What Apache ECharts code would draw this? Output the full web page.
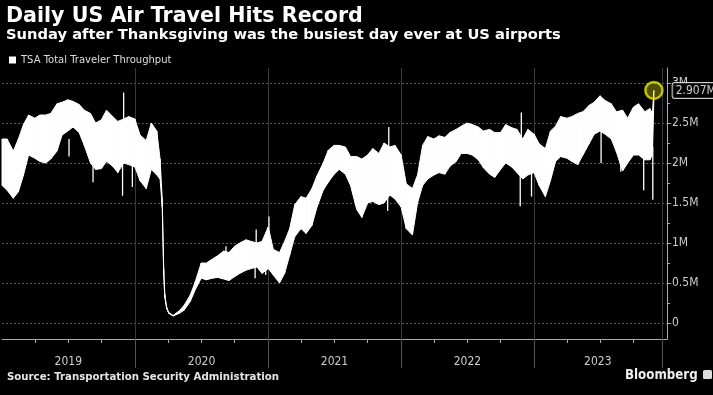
<!DOCTYPE html>
<html><head><meta charset="utf-8">
<script src="https://cdn.jsdelivr.net/npm/echarts@6/dist/echarts.min.js"></script>
<style>html,body{margin:0;padding:0;background:#000}#c{width:713px;height:395px}</style>
</head><body><div id="c"></div>
<script>
// ---- data (values in millions of travelers) ----
const halfMonthDays = ['01-01','01-15','02-01','02-15','03-01','03-15','04-01','04-15','05-01','05-15','06-01','06-15',
                       '07-01','07-15','08-01','08-15','09-01','09-15','10-01','10-15','11-01','11-15','12-01','12-15'];
// weekly high / low envelope of daily throughput
const hi2019 = [2.30,2.30,2.15,2.30,2.48,2.60,2.56,2.60,2.60,2.62,2.74,2.76,2.79,2.77,2.73,2.66,2.62,2.50,2.54,2.66,2.58,2.52,2.55,2.58];
const lo2019 = [1.72,1.66,1.56,1.64,1.85,2.10,2.06,2.02,2.00,2.05,2.15,2.35,2.40,2.45,2.38,2.22,2.00,1.92,1.93,2.02,1.96,1.88,2.00,1.98];
const days2020 = ['01-01','01-15','02-01','02-15','03-01','03-10','03-16','03-20','03-23','03-28','04-03','04-15','05-01','05-15',
                  '06-01','06-15','07-01','07-15','08-01','08-15','09-01','09-15','10-01','10-15','11-01','11-15','12-01','12-15'];
const hi2020 = [2.55,2.35,2.28,2.50,2.40,2.05,1.55,0.68,0.36,0.20,0.13,0.095,0.15,0.22,0.35,0.52,0.75,0.75,0.80,0.84,0.90,0.88,0.96,1.00,1.04,1.02,1.00,1.02];
const lo2020 = [1.95,1.78,1.68,1.92,1.85,1.80,1.45,0.60,0.32,0.18,0.12,0.087,0.12,0.16,0.27,0.42,0.56,0.54,0.56,0.57,0.55,0.53,0.58,0.62,0.66,0.68,0.70,0.62];
const hi2021 = [1.20,0.92,0.88,1.02,1.18,1.48,1.58,1.56,1.68,1.84,2.00,2.16,2.22,2.22,2.20,2.08,2.08,2.05,2.10,2.18,2.12,2.25,2.20,2.22];
const lo2021 = [0.68,0.60,0.50,0.62,0.85,1.08,1.18,1.12,1.22,1.45,1.66,1.76,1.86,1.92,1.86,1.72,1.42,1.32,1.50,1.52,1.48,1.50,1.60,1.55];
const hi2022 = [2.10,1.74,1.68,1.85,2.22,2.33,2.30,2.34,2.32,2.38,2.42,2.46,2.50,2.48,2.45,2.40,2.42,2.38,2.38,2.48,2.44,2.42,2.30,2.42];
const lo2022 = [1.45,1.18,1.10,1.50,1.72,1.80,1.85,1.88,1.86,1.96,2.02,2.12,2.12,2.10,2.04,1.94,1.86,1.82,1.92,2.00,1.95,1.88,1.80,1.85];
const days2023 = ['01-01','01-15','02-01','02-15','03-01','03-15','04-01','04-15','05-01','05-15','06-01','06-15',
                  '07-01','07-15','08-01','08-15','09-01','09-15','10-01','10-15','11-01','11-15','11-22','11-26'];
const hi2023 = [2.36,2.24,2.18,2.40,2.46,2.58,2.56,2.58,2.62,2.64,2.72,2.76,2.84,2.78,2.74,2.64,2.66,2.56,2.70,2.74,2.64,2.68,2.62,2.907];
const lo2023 = [1.88,1.72,1.58,1.78,2.02,2.08,2.06,2.02,1.98,2.10,2.24,2.36,2.40,2.36,2.30,2.14,1.90,2.00,2.10,2.10,2.04,2.04,2.10,2.80];
// single-day outliers: [date, band value, day value]
const spikes = [
  ['2019-07-04',2.30,2.08],['2019-09-08',2.00,1.76],['2019-11-28',2.00,1.59],['2019-12-01',2.40,2.88],['2019-12-25',2.00,1.70],
  ['2020-09-07',0.70,0.96],['2020-11-26',0.70,0.56],['2020-11-29',0.90,1.17],['2020-12-25',0.70,0.60],
  ['2021-01-03',1.00,1.33],['2021-11-25',1.60,1.40],['2021-11-28',2.10,2.45],
  ['2022-11-24',1.90,1.46],['2022-11-27',2.30,2.63],['2022-12-25',1.90,1.58],
  ['2023-07-04',2.40,2.00],['2023-08-27',2.10,1.89],['2023-10-29',2.10,1.66],['2023-11-23',2.20,1.54]
];
const recordDate = '2023-11-26';
const recordValue = 2.907;
const recordLabel = '2.907M';
const yTicks = [0,0.5,1,1.5,2,2.5,3];
const yMinorTicks = [0.25,0.75,1.25,1.75,2.25,2.75];
const yearLabels = [2019,2020,2021,2022,2023];
const seriesName = 'TSA Total Traveler Throughput';

// ---- build ----
function ts(s){const p=s.split('-').map(Number);return new Date(p[0],p[1]-1,p[2]).getTime();}
const bandData=[];
function addYear(y,days,hi,lo){days.forEach((d,i)=>{bandData.push([ts(y+'-'+d),lo[i],hi[i]]);});}
addYear(2019,halfMonthDays,hi2019,lo2019);
addYear(2020,days2020,hi2020,lo2020);
addYear(2021,halfMonthDays,hi2021,lo2021);
addYear(2022,halfMonthDays,hi2022,lo2022);
addYear(2023,days2023,hi2023,lo2023);
const spikeData = spikes.map(s=>[ts(s[0]),s[1],s[2]]);
const xMin = new Date(2019,0,1).getTime(), xMax = new Date(2024,0,1).getTime();
const yearBounds = [2020,2021,2022,2023].map(y=>new Date(y,0,1).getTime()).concat([new Date(2023,11,18).getTime()]);
const labelPos = yearLabels.map(y=> y===2023 ? new Date(2023,5,25).getTime() : new Date(y,6,2).getTime());
const quarters=[]; yearLabels.forEach(y=>[3,6,9].forEach(m=>quarters.push(new Date(y,m,1).getTime())));

const COND = 'DejaVu Sans Condensed';
const SANS = 'DejaVu Sans';
const chart = echarts.init(document.getElementById('c'), null, {renderer:'canvas'});
chart.setOption({
  backgroundColor:'#000',
  animation:false,
  title:[
    {text:'Daily US Air Travel Hits Record',left:6,top:6,padding:0,textStyle:{color:'#fff',fontSize:20.6,fontWeight:'bold',fontFamily:SANS}},
    {text:'Sunday after Thanksgiving was the busiest day ever at US airports',left:6,top:28,padding:0,textStyle:{color:'#fff',fontSize:14.7,fontWeight:'bold',fontFamily:SANS}}
  ],
  legend:{data:[seriesName],left:9,top:55,itemWidth:7,itemHeight:7,icon:'rect',padding:0,selectedMode:false,
    textStyle:{color:'#ddd',fontSize:10,fontFamily:SANS}},
  grid:{left:2,right:46,top:68,bottom:56,containLabel:false},
  xAxis:[
    {type:'value',min:xMin,max:xMax,position:'bottom',
      axisLine:{show:true,onZero:false,lineStyle:{color:'#aaa',width:1}},
      axisTick:{show:true,customValues:yearBounds,length:29,lineStyle:{color:'#555'}},
      splitLine:{show:true,lineStyle:{color:'#3a3a3a',width:1}},
      axisLabel:{show:true,customValues:labelPos,formatter:v=>String(new Date(v).getFullYear()),color:'#ccc',fontSize:12,fontFamily:COND,margin:17}},
    {type:'value',min:xMin,max:xMax,position:'bottom',
      axisLine:{show:false,onZero:false},
      axisTick:{show:true,customValues:quarters,length:4,lineStyle:{color:'#aaa'}},
      splitLine:{show:false},axisLabel:{show:false}}
  ],
  yAxis:[
    {type:'value',min:-0.2,max:3.1875,position:'right',
      axisLine:{show:true,onZero:false,lineStyle:{color:'#aaa'}},
      axisTick:{show:true,customValues:yTicks,length:4,lineStyle:{color:'#aaa'}},
      splitLine:{show:true,lineStyle:{color:'#5a5a5a',type:[2,2]}},
      axisLabel:{show:true,customValues:yTicks,margin:5,color:'#ccc',fontSize:12,fontFamily:COND,
        formatter:v=> v===0 ? '0' : (v+'M')}},
    {type:'value',min:-0.2,max:3.1875,position:'right',
      axisLine:{show:false,onZero:false},
      axisTick:{show:true,customValues:yMinorTicks,length:3,lineStyle:{color:'#aaa'}},
      splitLine:{show:false},axisLabel:{show:false}}
  ],
  series:[
    {type:'custom',name:seriesName,data:bandData,xAxisIndex:0,yAxisIndex:0,encode:{x:0,y:[1,2]},silent:true,z:2,
      itemStyle:{color:'#fff'},
      renderItem:function(params,api){
        const i=params.dataIndex;
        if(i>=bandData.length-1) return null;
        const n=bandData[i+1];
        const a=api.coord([api.value(0),api.value(1)]);
        const b=api.coord([api.value(0),api.value(2)]);
        const c=api.coord([n[0],n[2]]);
        const d=api.coord([n[0],n[1]]);
        return {type:'polygon',shape:{points:[a,b,c,d]},style:{fill:'#fff',stroke:'#fff',lineWidth:1}};
      }},
    {type:'custom',name:'spikes',data:spikeData,xAxisIndex:0,yAxisIndex:0,encode:{x:0,y:[1,2]},silent:true,z:3,
      renderItem:function(params,api){
        const p1=api.coord([api.value(0),api.value(1)]);
        const p2=api.coord([api.value(0),api.value(2)]);
        return {type:'line',shape:{x1:p1[0],y1:p1[1],x2:p2[0],y2:p2[1]},style:{stroke:'#fff',lineWidth:1.3}};
      }},
    {type:'scatter',name:'record',data:[[ts(recordDate),recordValue]],xAxisIndex:0,yAxisIndex:0,symbol:'circle',symbolSize:17,z:10,silent:true,
      itemStyle:{color:'rgba(220,220,0,0.45)',borderColor:'#e6e600',borderWidth:2.5},
      label:{show:true,position:'right',distance:9,formatter:recordLabel,color:'#fff',fontSize:12,fontFamily:COND,
        backgroundColor:'#000',borderColor:'#fff',borderWidth:1,borderRadius:2,padding:[2,2,1,3]}}
  ],
  graphic:[
    {type:'text',left:7,top:372,style:{text:'Source: Transportation Security Administration',fill:'#e6e6e6',font:'bold 10.2px "'+SANS+'"'}},
    {type:'text',left:625,top:369,style:{text:'Bloomberg',fill:'#eee',font:'bold 13.2px "'+COND+'"'}},
    {type:'rect',left:703,top:370,shape:{width:9,height:9,r:1.5},style:{fill:'#ddd'}}
  ]
});
</script></body></html>
